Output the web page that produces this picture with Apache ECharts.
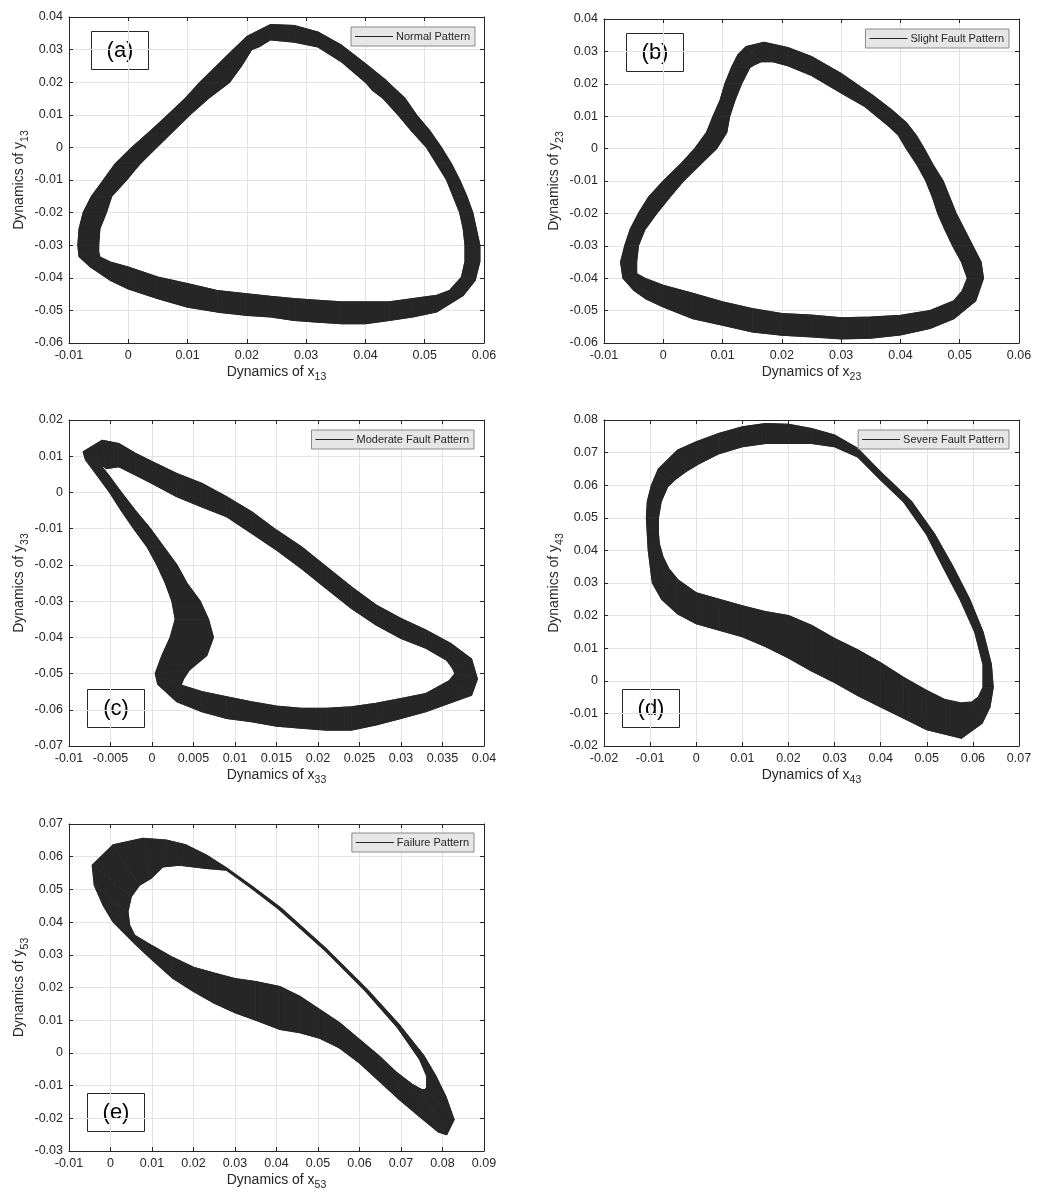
<!DOCTYPE html>
<html>
<head>
<meta charset="utf-8">
<title>Phase portraits of the five patterns</title>
<script src="https://cdn.jsdelivr.net/npm/echarts@6/dist/echarts.min.js"></script>
<style>
html, body { margin: 0; padding: 0; background: #fff; }
#main { width: 1042px; height: 1204px; }
</style>
</head>
<body>
<div id="main"></div>
<script>
// ---- data: each row = [x outer, y outer, x inner, y inner] of the band ----
var bandA = [
  [-0.0085,-0.0300,-0.0050,-0.0300],[-0.0083,-0.0250,-0.0048,-0.0250],[-0.0076,-0.0200,-0.0037,-0.0200],
  [-0.0062,-0.0150,-0.0028,-0.0150],[-0.0042,-0.0100,-0.0003,-0.0100],[-0.0022,-0.0050,0.0020,-0.0050],
  [0.0006,0.0000,0.0048,0.0000],[0.0037,0.0050,0.0076,0.0050],[0.0067,0.0100,0.0104,0.0100],
  [0.0096,0.0150,0.0135,0.0150],[0.0121,0.0200,0.0171,0.0200],[0.0149,0.0250,0.0191,0.0250],
  [0.0177,0.0300,0.0208,0.0300],[0.0200,0.0340,0.0222,0.0310],[0.0240,0.0377,0.0240,0.0330],
  [0.0280,0.0374,0.0280,0.0323],[0.0320,0.0354,0.0320,0.0308],[0.0360,0.0313,0.0360,0.0262],
  [0.0400,0.0257,0.0400,0.0200],[0.0435,0.0205,0.0412,0.0175],[0.0467,0.0150,0.0430,0.0150],
  [0.0486,0.0100,0.0455,0.0100],[0.0509,0.0050,0.0478,0.0050],[0.0528,0.0000,0.0503,0.0000],
  [0.0545,-0.0050,0.0520,-0.0050],[0.0559,-0.0100,0.0537,-0.0100],[0.0571,-0.0150,0.0548,-0.0150],
  [0.0581,-0.0200,0.0559,-0.0200],[0.0587,-0.0250,0.0565,-0.0250],[0.0593,-0.0300,0.0568,-0.0300],
  [0.0593,-0.0350,0.0568,-0.0350],[0.0585,-0.0408,0.0562,-0.0398],[0.0565,-0.0454,0.0542,-0.0439],
  [0.0520,-0.0505,0.0520,-0.0454],[0.0480,-0.0520,0.0480,-0.0464],[0.0440,-0.0531,0.0440,-0.0474],
  [0.0400,-0.0541,0.0400,-0.0474],[0.0360,-0.0541,0.0360,-0.0474],[0.0320,-0.0536,0.0320,-0.0469],
  [0.0280,-0.0531,0.0280,-0.0464],[0.0240,-0.0520,0.0240,-0.0457],[0.0200,-0.0515,0.0200,-0.0449],
  [0.0150,-0.0505,0.0150,-0.0439],[0.0100,-0.0490,0.0100,-0.0418],[0.0050,-0.0464,0.0050,-0.0398],
  [0.0000,-0.0434,0.0000,-0.0367],[-0.0030,-0.0408,-0.0030,-0.0352],[-0.0065,-0.0365,-0.0048,-0.0336],
  [-0.0083,-0.0335,-0.0050,-0.0320]
];
var bandB = [
  [-0.0072,-0.0350,-0.0045,-0.0350],[-0.0065,-0.0300,-0.0042,-0.0300],[-0.0056,-0.0250,-0.0031,-0.0250],
  [-0.0042,-0.0200,-0.0011,-0.0200],[-0.0025,-0.0150,0.0011,-0.0150],[0.0000,-0.0100,0.0034,-0.0100],
  [0.0028,-0.0050,0.0062,-0.0050],[0.0053,0.0000,0.0090,0.0000],[0.0073,0.0050,0.0107,0.0050],
  [0.0084,0.0100,0.0112,0.0100],[0.0096,0.0150,0.0121,0.0150],[0.0104,0.0200,0.0132,0.0200],
  [0.0115,0.0250,0.0146,0.0250],[0.0126,0.0290,0.0155,0.0260],[0.0140,0.0315,0.0165,0.0268],
  [0.0170,0.0328,0.0185,0.0268],[0.0210,0.0312,0.0210,0.0256],[0.0250,0.0284,0.0250,0.0226],
  [0.0300,0.0232,0.0300,0.0172],[0.0353,0.0165,0.0340,0.0130],[0.0385,0.0120,0.0360,0.0100],
  [0.0410,0.0080,0.0380,0.0070],[0.0427,0.0040,0.0397,0.0040],[0.0440,0.0000,0.0410,0.0000],
  [0.0455,-0.0050,0.0428,-0.0050],[0.0472,-0.0100,0.0443,-0.0100],[0.0483,-0.0150,0.0454,-0.0150],
  [0.0494,-0.0200,0.0463,-0.0200],[0.0508,-0.0250,0.0475,-0.0250],[0.0522,-0.0300,0.0488,-0.0300],
  [0.0536,-0.0350,0.0503,-0.0350],[0.0540,-0.0400,0.0513,-0.0400],[0.0527,-0.0470,0.0504,-0.0440],
  [0.0490,-0.0525,0.0490,-0.0470],[0.0450,-0.0555,0.0450,-0.0500],[0.0400,-0.0575,0.0400,-0.0515],
  [0.0350,-0.0585,0.0350,-0.0520],[0.0300,-0.0587,0.0300,-0.0522],[0.0250,-0.0581,0.0250,-0.0514],
  [0.0200,-0.0576,0.0200,-0.0509],[0.0150,-0.0566,0.0150,-0.0494],[0.0100,-0.0545,0.0100,-0.0473],
  [0.0050,-0.0525,0.0050,-0.0447],[0.0000,-0.0489,0.0000,-0.0422],[-0.0030,-0.0463,-0.0030,-0.0401],
  [-0.0050,-0.0437,-0.0045,-0.0386],[-0.0068,-0.0400,-0.0045,-0.0370]
];
var bandC = [
  [-0.0083,0.0112,-0.0060,0.0075],[-0.0060,0.0144,-0.0055,0.0066],[-0.0040,0.0135,-0.0040,0.0071],
  [-0.0020,0.0108,-0.0020,0.0048],[0.0000,0.0085,0.0000,0.0025],[0.0030,0.0052,0.0030,-0.0012],
  [0.0060,0.0025,0.0060,-0.0040],[0.0090,-0.0012,0.0090,-0.0067],[0.0120,-0.0053,0.0120,-0.0113],
  [0.0150,-0.0104,0.0150,-0.0159],[0.0180,-0.0150,0.0180,-0.0210],[0.0210,-0.0205,0.0210,-0.0265],
  [0.0240,-0.0260,0.0240,-0.0320],[0.0270,-0.0311,0.0270,-0.0366],[0.0300,-0.0348,0.0300,-0.0403],
  [0.0330,-0.0380,0.0330,-0.0430],[0.0360,-0.0417,0.0355,-0.0463],[0.0385,-0.0460,0.0362,-0.0485],
  [0.0392,-0.0515,0.0365,-0.0500],[0.0385,-0.0560,0.0358,-0.0520],[0.0330,-0.0605,0.0330,-0.0555],
  [0.0300,-0.0624,0.0300,-0.0569],[0.0270,-0.0642,0.0270,-0.0582],[0.0240,-0.0656,0.0240,-0.0592],
  [0.0210,-0.0656,0.0210,-0.0596],[0.0180,-0.0651,0.0180,-0.0596],[0.0150,-0.0645,0.0150,-0.0590],
  [0.0120,-0.0633,0.0120,-0.0578],[0.0090,-0.0624,0.0090,-0.0564],[0.0060,-0.0605,0.0060,-0.0550],
  [0.0030,-0.0578,0.0035,-0.0532],[0.0007,-0.0530,0.0038,-0.0515],[0.0004,-0.0500,0.0045,-0.0490],
  [0.0012,-0.0450,0.0066,-0.0450],[0.0022,-0.0400,0.0074,-0.0400],[0.0028,-0.0350,0.0068,-0.0350],
  [0.0024,-0.0300,0.0058,-0.0300],[0.0016,-0.0250,0.0042,-0.0250],[0.0006,-0.0200,0.0030,-0.0200],
  [-0.0006,-0.0150,0.0014,-0.0150],[-0.0022,-0.0100,-0.0002,-0.0100],[-0.0037,-0.0050,-0.0020,-0.0050],
  [-0.0051,0.0000,-0.0037,0.0000],[-0.0067,0.0050,-0.0053,0.0050],[-0.0080,0.0090,-0.0060,0.0070]
];
var bandD = [
  [-0.0104,0.0400,-0.0080,0.0420],[-0.0106,0.0450,-0.0082,0.0450],[-0.0108,0.0500,-0.0082,0.0500],
  [-0.0106,0.0550,-0.0076,0.0550],[-0.0097,0.0600,-0.0062,0.0595],[-0.0082,0.0650,-0.0045,0.0618],
  [-0.0040,0.0708,-0.0022,0.0642],[0.0000,0.0733,0.0005,0.0665],[0.0050,0.0759,0.0050,0.0697],
  [0.0100,0.0779,0.0100,0.0718],[0.0150,0.0789,0.0150,0.0728],[0.0200,0.0787,0.0200,0.0728],
  [0.0250,0.0774,0.0250,0.0728],[0.0300,0.0754,0.0300,0.0718],[0.0350,0.0713,0.0350,0.0687],
  [0.0400,0.0641,0.0400,0.0616],[0.0467,0.0550,0.0449,0.0550],[0.0517,0.0450,0.0499,0.0450],
  [0.0557,0.0350,0.0535,0.0350],[0.0593,0.0250,0.0572,0.0250],[0.0622,0.0150,0.0604,0.0150],
  [0.0640,0.0050,0.0622,0.0050],[0.0644,-0.0020,0.0622,-0.0020],[0.0637,-0.0080,0.0612,-0.0050],
  [0.0620,-0.0130,0.0598,-0.0065],[0.0575,-0.0176,0.0575,-0.0068],[0.0540,-0.0164,0.0540,-0.0058],
  [0.0500,-0.0150,0.0500,-0.0030],[0.0450,-0.0115,0.0450,0.0010],[0.0400,-0.0080,0.0400,0.0055],
  [0.0350,-0.0045,0.0350,0.0095],[0.0300,-0.0005,0.0300,0.0130],[0.0250,0.0030,0.0250,0.0170],
  [0.0200,0.0070,0.0200,0.0200],[0.0150,0.0105,0.0150,0.0212],[0.0100,0.0135,0.0100,0.0230],
  [0.0050,0.0155,0.0050,0.0250],[0.0000,0.0175,0.0000,0.0270],[-0.0040,0.0205,-0.0040,0.0310],
  [-0.0075,0.0250,-0.0060,0.0345],[-0.0095,0.0300,-0.0072,0.0380]
];
var bandE = [
  [0.0006,0.0401,0.0058,0.0360],[-0.0018,0.0452,0.0046,0.0391],[-0.0039,0.0513,0.0042,0.0432],
  [-0.0044,0.0574,0.0050,0.0478],[0.0006,0.0636,0.0070,0.0513],[0.0078,0.0656,0.0098,0.0534],
  [0.0134,0.0651,0.0126,0.0569],[0.0182,0.0636,0.0166,0.0574],[0.0231,0.0605,0.0231,0.0564],
  [0.0279,0.0566,0.0279,0.0559],[0.0342,0.0509,0.0338,0.0505],[0.0410,0.0444,0.0405,0.0440],
  [0.0522,0.0316,0.0517,0.0313],[0.0618,0.0195,0.0612,0.0192],[0.0698,0.0083,0.0690,0.0080],
  [0.0755,-0.0008,0.0745,-0.0020],[0.0784,-0.0071,0.0762,-0.0071],[0.0808,-0.0133,0.0762,-0.0105],
  [0.0828,-0.0204,0.0758,-0.0112],[0.0810,-0.0250,0.0750,-0.0112],[0.0790,-0.0242,0.0744,-0.0108],
  [0.0744,-0.0194,0.0728,-0.0097],[0.0696,-0.0143,0.0688,-0.0058],[0.0648,-0.0087,0.0648,-0.0010],
  [0.0600,-0.0031,0.0600,0.0041],[0.0552,0.0015,0.0552,0.0092],[0.0504,0.0045,0.0504,0.0133],
  [0.0456,0.0062,0.0456,0.0173],[0.0408,0.0072,0.0408,0.0203],[0.0350,0.0100,0.0350,0.0218],
  [0.0300,0.0123,0.0300,0.0227],[0.0250,0.0152,0.0250,0.0244],[0.0200,0.0188,0.0200,0.0262],
  [0.0150,0.0228,0.0150,0.0292],[0.0100,0.0285,0.0100,0.0328],[0.0060,0.0332,0.0058,0.0360]
];

var patternNames = ['Normal Pattern', 'Slight Fault Pattern', 'Moderate Fault Pattern',
                    'Severe Fault Pattern', 'Failure Pattern'];
var panelTags = ['(a)', '(b)', '(c)', '(d)', '(e)'];
var subIdx = ['13', '23', '33', '43', '53'];
// [min, max, step] of each axis
var xRanges = [[-0.01, 0.06, 0.01], [-0.01, 0.06, 0.01], [-0.01, 0.04, 0.005], [-0.02, 0.07, 0.01], [-0.01, 0.09, 0.01]];
var yRanges = [[-0.06, 0.04, 0.01], [-0.06, 0.04, 0.01], [-0.07, 0.02, 0.01], [-0.02, 0.08, 0.01], [-0.03, 0.07, 0.01]];
var bands = [bandA, bandB, bandC, bandD, bandE];

// ---- layout ----
var gridBoxes = [[69, 17, 415, 326], [604, 19, 415, 324], [69, 420, 415, 326], [604, 420, 415, 326], [69, 824, 415, 327]];
var legendPos = [[567, 27], [33, 29], [568, 430], [33, 430], [568, 833]];
var tagPos = [[91, 31], [626, 33], [87, 689], [622, 689], [87, 1093]];

var ink = '#262626';
var font = '"Liberation Sans", Arial, sans-serif';

function fmt(v) { return String(Math.round(v * 10000) / 10000); }

function renderBand(params, api) {
    var pts = [];
    for (var k = 0; k < 4; k++) {
        pts.push(api.coord([api.value(2 * k), api.value(2 * k + 1)]));
    }
    return {
        type: 'polygon',
        shape: { points: pts },
        style: { fill: ink, stroke: ink, lineWidth: 0.8 }
    };
}

var grids = [], xAxes = [], yAxes = [], series = [], legends = [], graphics = [];

for (var k = 0; k < 5; k++) {
    var g = gridBoxes[k];
    grids.push({ left: g[0], top: g[1], width: g[2], height: g[3], containLabel: false });

    var xr = xRanges[k], yr = yRanges[k];
    var lineSt = { color: ink, width: 1 };
    // bottom / left: labelled axes
    xAxes.push({
        gridIndex: k, type: 'value', position: 'bottom', min: xr[0], max: xr[1], interval: xr[2],
        axisLine: { onZero: false, lineStyle: lineSt },
        axisTick: { inside: true, length: 4, lineStyle: lineSt },
        axisLabel: { fontSize: 12.5, color: ink, margin: 6, fontFamily: font, formatter: fmt },
        splitLine: { show: true, lineStyle: { color: '#e3e3e3', width: 1 } },
        name: '{m|Dynamics of x}{s|' + subIdx[k] + '}',
        nameLocation: 'middle', nameGap: 18,
        nameTextStyle: {
            rich: {
                m: { fontSize: 14, color: ink, fontFamily: font },
                s: { fontSize: 10.5, color: ink, fontFamily: font, padding: [11, 0, 0, 0] }
            }
        }
    });
    // top: box edge with ticks
    xAxes.push({
        gridIndex: k, type: 'value', position: 'top', min: xr[0], max: xr[1], interval: xr[2],
        axisLine: { onZero: false, lineStyle: lineSt },
        axisTick: { inside: true, length: 4, lineStyle: lineSt },
        axisLabel: { show: false }, splitLine: { show: false }
    });
    yAxes.push({
        gridIndex: k, type: 'value', position: 'left', min: yr[0], max: yr[1], interval: yr[2],
        axisLine: { onZero: false, lineStyle: lineSt },
        axisTick: { inside: true, length: 4, lineStyle: lineSt },
        axisLabel: { fontSize: 12.5, color: ink, margin: 6, fontFamily: font, formatter: fmt },
        splitLine: { show: true, lineStyle: { color: '#e3e3e3', width: 1 } },
        name: '{m|Dynamics of y}{s|' + subIdx[k] + '}',
        nameLocation: 'middle', nameGap: 36, nameRotate: 90,
        nameTextStyle: {
            rich: {
                m: { fontSize: 14, color: ink, fontFamily: font },
                s: { fontSize: 10.5, color: ink, fontFamily: font, padding: [11, 0, 0, 0] }
            }
        }
    });
    yAxes.push({
        gridIndex: k, type: 'value', position: 'right', min: yr[0], max: yr[1], interval: yr[2],
        axisLine: { onZero: false, lineStyle: lineSt },
        axisTick: { inside: true, length: 4, lineStyle: lineSt },
        axisLabel: { show: false }, splitLine: { show: false }
    });

    var band = bands[k];
    var quads = [], outer = [], inner = [];
    for (var i = 0; i < band.length; i++) {
        var a = band[i], b = band[(i + 1) % band.length];
        quads.push([a[0], a[1], b[0], b[1], b[2], b[3], a[2], a[3]]);
        outer.push([a[0], a[1]]);
        inner.push([a[2], a[3]]);
    }
    outer.push(outer[0]);
    inner.push(inner[0]);

    series.push({
        type: 'custom', xAxisIndex: 2 * k, yAxisIndex: 2 * k,
        renderItem: renderBand,
        encode: { x: [0, 2, 4, 6], y: [1, 3, 5, 7] },
        data: quads, silent: true, z: 2
    });
    series.push({
        name: patternNames[k], type: 'line', xAxisIndex: 2 * k, yAxisIndex: 2 * k,
        data: outer, symbol: 'none', color: ink,
        lineStyle: { color: ink, width: 1.2 }, z: 3
    });
    series.push({
        name: patternNames[k] + ' ', type: 'line', xAxisIndex: 2 * k, yAxisIndex: 2 * k,
        data: inner, symbol: 'none', color: ink,
        lineStyle: { color: ink, width: 1.2 }, z: 3
    });

    legends.push({
        data: [{ name: patternNames[k], icon: 'rect' }],
        right: legendPos[k][0], top: legendPos[k][1],
        orient: 'horizontal', selectedMode: false,
        backgroundColor: '#e6e6e6', borderColor: '#8a8a8a', borderWidth: 1,
        padding: [4, 5, 4, 4], itemWidth: 38, itemHeight: 1, itemGap: 0,
        itemStyle: { color: ink },
        textStyle: { fontSize: 11, color: ink, fontFamily: font, padding: [0, 0, 0, -2] }
    });

    graphics.push({
        type: 'group', left: tagPos[k][0], top: tagPos[k][1], z: 100,
        children: [
            { type: 'rect', shape: { x: 0, y: 0, width: 57, height: 38 },
              style: { fill: '#fff', stroke: ink, lineWidth: 1 } },
            { type: 'text', x: 28.5, y: 19,
              style: { text: panelTags[k], font: '22px ' + font, fill: '#000',
                       align: 'center', verticalAlign: 'middle' } }
        ]
    });
}

var myChart = echarts.init(document.getElementById('main'), null, { renderer: 'canvas' });
myChart.setOption({
    animation: false,
    backgroundColor: '#fff',
    textStyle: { fontFamily: font },
    grid: grids,
    xAxis: xAxes,
    yAxis: yAxes,
    legend: legends,
    series: series,
    graphic: graphics
});
</script>
</body>
</html>
